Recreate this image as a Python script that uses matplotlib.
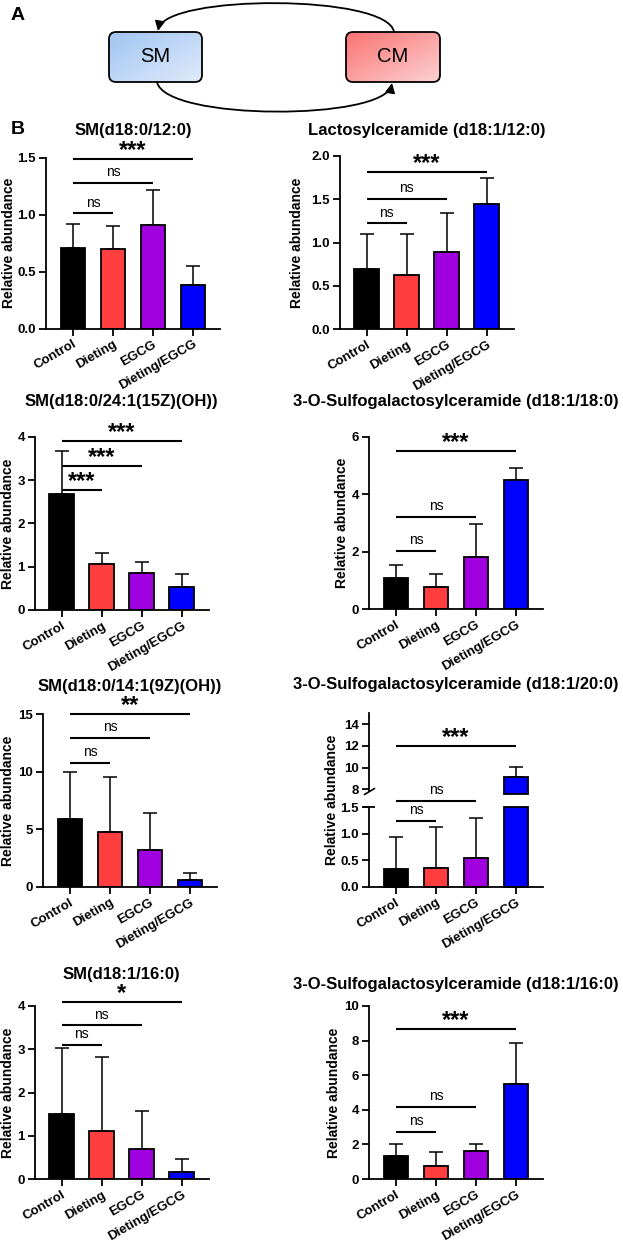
import numpy as np
import matplotlib
matplotlib.use("Agg")
import matplotlib.pyplot as plt
from matplotlib.patches import FancyBboxPatch, FancyArrowPatch
from matplotlib.path import Path
from matplotlib.ticker import FormatStrFormatter

plt.rcParams["font.family"] = ["Liberation Sans", "DejaVu Sans"]

groups = ["Control", "Dieting", "EGCG", "Dieting/EGCG"]
bar_colors = ["#000000", "#ff3f3f", "#a000df", "#0000ff"]

# mean and SD per group
sm_12 = [0.71, 0.70, 0.91, 0.38]
sm_12_sd = [0.21, 0.20, 0.31, 0.17]
lac_12 = [0.69, 0.63, 0.885, 1.45]
lac_12_sd = [0.41, 0.47, 0.455, 0.29]
sm_24 = [2.67, 1.06, 0.85, 0.52]
sm_24_sd = [1.00, 0.26, 0.25, 0.31]
sulf_18 = [1.08, 0.78, 1.83, 4.51]
sulf_18_sd = [0.46, 0.44, 1.12, 0.41]
sm_14 = [5.89, 4.78, 3.19, 0.60]
sm_14_sd = [4.11, 4.79, 3.25, 0.55]
sulf_20 = [0.33, 0.36, 0.54, 9.17]
sulf_20_sd = [0.60, 0.76, 0.76, 0.93]
sm_16 = [1.51, 1.11, 0.69, 0.18]
sm_16_sd = [1.51, 1.72, 0.89, 0.29]
sulf_16 = [1.35, 0.77, 1.62, 5.47]
sulf_16_sd = [0.67, 0.77, 0.40, 2.37]

# significance brackets: (compared group, height, label), always vs Control
sig_sm_12 = [(1, 1.01, "ns"), (2, 1.28, "ns"), (3, 1.49, "***")]
sig_lac_12 = [(1, 1.22, "ns"), (2, 1.50, "ns"), (3, 1.81, "***")]
sig_sm_24 = [(1, 2.76, "***"), (2, 3.33, "***"), (3, 3.89, "***")]
sig_sulf_18 = [(1, 2.02, "ns"), (2, 3.22, "ns"), (3, 5.50, "***")]
sig_sm_14 = [(1, 10.73, "ns"), (2, 12.9, "ns"), (3, 15.0, "**")]
sig_sulf_20 = [(1, 1.24, "ns"), (2, 1.62, "ns"), (3, 12.0, "***")]
sig_sm_16 = [(1, 3.09, "ns"), (2, 3.55, "ns"), (3, 4.09, "*")]
sig_sulf_16 = [(1, 2.70, "ns"), (2, 4.18, "ns"), (3, 8.67, "***")]

W, H = 623, 1245
BAR_PX = 40
XLIM = (-0.68, 3.68)

fig = plt.figure(figsize=(W / 100, H / 100), dpi=100)


def px_axes(left, top, right, bottom):
    return fig.add_axes([left / W, 1 - bottom / H, (right - left) / W, (bottom - top) / H])


def style(ax, xlabels=True):
    for s in ["top", "right"]:
        ax.spines[s].set_visible(False)
    for s in ["left", "bottom"]:
        ax.spines[s].set_linewidth(1.3)
    ax.tick_params(direction="out", length=5, width=1.3, labelsize=9.5, pad=2)
    for lab in ax.get_yticklabels():
        lab.set_fontweight("bold")
    ax.set_xlim(*XLIM)
    if xlabels:
        ax.set_xticks(range(len(groups)))
        ax.set_xticklabels(groups, rotation=30, ha="right", va="top",
                           rotation_mode="anchor", fontweight="bold", fontsize=9.5)
    else:
        ax.set_xticks([])
        ax.spines["bottom"].set_visible(False)


def draw_bars(ax, mean, sd, bottom=0):
    x = np.arange(len(mean))
    ax.errorbar(x, mean, yerr=[np.zeros(len(sd)), sd], fmt="none", ecolor="black",
                elinewidth=1.1, capsize=4.7, capthick=1.1, zorder=1)
    ax.bar(x, np.array(mean) - bottom, bottom=bottom, width=0.62, color=bar_colors,
           edgecolor="black", linewidth=1.3, zorder=2)


def bracket(ax, j, h, label):
    ax.plot([0, j], [h, h], color="black", lw=1.5, clip_on=False, solid_capstyle="butt")
    if label == "ns":
        ax.annotate(label, (j / 2, h), xytext=(0, 5), textcoords="offset points",
                    ha="center", va="baseline", fontsize=10, annotation_clip=False)
    else:
        ax.annotate(label, (j / 2, h), xytext=(0, 1.5), textcoords="offset points",
                    ha="center", va="baseline", fontsize=17, fontweight="bold",
                    annotation_clip=False)


def title(c0, y, text):
    cx = c0 + (XLIM[0] + XLIM[1]) / 2 * BAR_PX
    fig.text(cx / W, 1 - y / H, text, ha="center", va="center", fontsize=12, fontweight="bold")


def ylabel_at(x_px, y_px):
    fig.text(x_px / W, 1 - y_px / H, "Relative abundance", rotation=90, ha="center",
             va="center", fontsize=10, fontweight="bold")


# ---- panel A: SM <-> CM diagram ----
ax0 = fig.add_axes([0, 1 - 140 / H, 1, 140 / H])
ax0.set_xlim(0, W)
ax0.set_ylim(140, 0)
ax0.axis("off")


def grad_box(x0, y0, w, h, c1, c2, label):
    t = np.linspace(0, 1, 60)
    g = (t[None, :] + t[:, None]) / 2
    rgb = np.array(c1) + (np.array(c2) - np.array(c1)) * g[..., None]
    im = ax0.imshow(rgb, extent=(x0, x0 + w, y0 + h, y0), aspect="auto",
                    interpolation="bilinear", zorder=1)
    box = FancyBboxPatch((x0, y0), w, h, boxstyle="round,pad=0,rounding_size=7",
                         fc="none", ec="black", lw=1.3, zorder=2)
    ax0.add_patch(box)
    im.set_clip_path(box)
    ax0.text(x0 + w / 2, y0 + h / 2, label, ha="center", va="center", fontsize=14.5, zorder=3)


grad_box(109, 32, 93, 50, (0.63, 0.77, 0.95), (0.87, 0.92, 0.98), "SM")
grad_box(346, 32, 94, 50, (0.98, 0.45, 0.45), (0.99, 0.82, 0.82), "CM")

top_arc = Path([(394, 32), (388, -6), (165, -6), (158, 31)],
               [Path.MOVETO, Path.CURVE4, Path.CURVE4, Path.CURVE4])
bot_arc = Path([(157, 82), (165, 121), (385, 121), (392, 83)],
               [Path.MOVETO, Path.CURVE4, Path.CURVE4, Path.CURVE4])
for p in (top_arc, bot_arc):
    ax0.add_patch(FancyArrowPatch(path=p, arrowstyle="-|>", mutation_scale=14,
                                  shrinkA=0, shrinkB=0, lw=1.3, color="black", zorder=3))

fig.text(18 / W, 1 - 16 / H, "A", ha="center", va="center", fontsize=14, fontweight="bold")
fig.text(18 / W, 1 - 130 / H, "B", ha="center", va="center", fontsize=14, fontweight="bold")

# ---- panel B: bar charts ----
panels = [
    # title, mean, sd, ylim, yticks, fmt, sig, (bar0 px, top px, bottom px, title px, ylabel px)
    ("SM(d18:0/12:0)", sm_12, sm_12_sd, (0, 1.5), [0, 0.5, 1.0, 1.5], "%.1f", sig_sm_12,
     (73, 157.7, 328.5, 130, 9)),
    ("Lactosylceramide (d18:1/12:0)", lac_12, lac_12_sd, (0, 2.0), [0, 0.5, 1.0, 1.5, 2.0], "%.1f",
     sig_lac_12, (366.7, 156, 329, 130, 297)),
    ("SM(d18:0/24:1(15Z)(OH))", sm_24, sm_24_sd, (0, 4), [0, 1, 2, 3, 4], "%d", sig_sm_24,
     (61.7, 436.7, 610, 401.7, 8)),
    ("3-O-Sulfogalactosylceramide (d18:1/18:0)", sulf_18, sulf_18_sd, (0, 6), [0, 2, 4, 6], "%d",
     sig_sulf_18, (396, 436.7, 609.3, 401.7, 342)),
    ("SM(d18:0/14:1(9Z)(OH))", sm_14, sm_14_sd, (0, 15), [0, 5, 10, 15], "%d", sig_sm_14,
     (70, 714.3, 886.7, 686.7, 8)),
    ("SM(d18:1/16:0)", sm_16, sm_16_sd, (0, 4), [0, 1, 2, 3, 4], "%d", sig_sm_16,
     (61.7, 1006, 1179.3, 974.5, 8)),
    ("3-O-Sulfogalactosylceramide (d18:1/16:0)", sulf_16, sulf_16_sd, (0, 10), [0, 2, 4, 6, 8, 10],
     "%d", sig_sulf_16, (396, 1006, 1179, 985, 334)),
]

for name, mean, sd, ylim, yticks, fmt, sig, (c0, top, bottom, ty, lx) in panels:
    left = c0 + XLIM[0] * BAR_PX
    right = c0 + XLIM[1] * BAR_PX
    ax = px_axes(left, top, right, bottom)
    draw_bars(ax, mean, sd)
    ax.set_ylim(*ylim)
    ax.set_yticks(yticks)
    ax.yaxis.set_major_formatter(FormatStrFormatter(fmt))
    style(ax)
    ylabel_at(lx, (top + bottom) / 2)
    for j, h, lab in sig:
        bracket(ax, j, h, lab)
    title(c0, ty, name)

# broken-axis panel (d18:1/20:0)
c0 = 396
left, right = c0 + XLIM[0] * BAR_PX, c0 + XLIM[1] * BAR_PX
ax_hi = px_axes(left, 713.4, right, 793.6)
ax_lo = px_axes(left, 807.3, right, 886.7)
lo_top = 1.5
hi_lim = (7.6, 15)

mean = np.array(sulf_20)
sd = np.array(sulf_20_sd)
low = mean < lo_top
x = np.arange(len(mean))
ax_lo.errorbar(x[low], mean[low], yerr=[np.zeros(low.sum()), sd[low]], fmt="none",
               ecolor="black", elinewidth=1.1, capsize=4.7, capthick=1.1, zorder=1)
ax_lo.bar(x, np.minimum(mean, lo_top), width=0.62, color=bar_colors, edgecolor="black",
          linewidth=1.3, zorder=2, clip_on=False)
ax_hi.errorbar(x[~low], mean[~low], yerr=[np.zeros((~low).sum()), sd[~low]], fmt="none",
               ecolor="black", elinewidth=1.1, capsize=4.7, capthick=1.1, zorder=1)
ax_hi.bar(x[~low], mean[~low] - hi_lim[0], bottom=hi_lim[0], width=0.62,
          color=[bar_colors[i] for i in x[~low]], edgecolor="black", linewidth=1.3,
          zorder=2, clip_on=False)

ax_lo.set_ylim(0, lo_top)
ax_lo.set_yticks([0, 0.5, 1.0, 1.5])
ax_lo.yaxis.set_major_formatter(FormatStrFormatter("%.1f"))
style(ax_lo)
ax_hi.set_ylim(*hi_lim)
ax_hi.set_yticks([8, 10, 12, 14])
style(ax_hi, xlabels=False)
ax_hi.spines["left"].set_bounds(7.8, 15)

# break marks
ax_hi.plot([0], [0.03], transform=ax_hi.transAxes, marker=[(-1, -0.6), (1, 0.6)],
           markersize=8, color="black", mew=1.2, clip_on=False)
ax_lo.plot([0], [1], transform=ax_lo.transAxes, marker=[(-1, 0), (1, 0)],
           markersize=9, color="black", mew=1.3, clip_on=False)

for j, h, lab in sig_sulf_20:
    bracket(ax_lo if h < 2 else ax_hi, j, h, lab)

ylabel_at(332, 800)
title(c0, 685, "3-O-Sulfogalactosylceramide (d18:1/20:0)")

fig.savefig("out.png", dpi=100)
